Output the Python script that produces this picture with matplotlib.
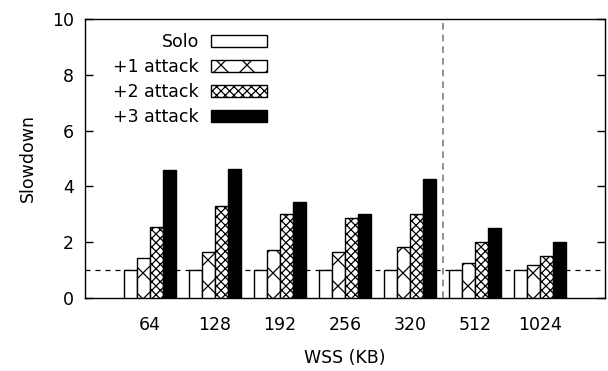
import numpy as np
import matplotlib
matplotlib.use("Agg")
import matplotlib.pyplot as plt

wss_labels = ["64", "128", "192", "256", "320", "512", "1024"]
series_names = ["Solo", "+1 attack", "+2 attack", "+3 attack"]
solo = [1.0, 1.0, 1.0, 1.0, 1.0, 1.0, 1.0]
attack1 = [1.45, 1.64, 1.71, 1.64, 1.83, 1.26, 1.18]
attack2 = [2.53, 3.29, 3.01, 2.85, 3.02, 1.99, 1.51]
attack3 = [4.58, 4.61, 3.43, 3.0, 4.25, 2.5, 2.0]

# lower dpi so the hatch cells come out near the reference size;
# point sizes are scaled back up so text/lines keep their pixel size
DPI = 78
S = 100 / DPI
FS = 12.5 * S

plt.rcParams['font.family'] = ['DejaVu Sans']
plt.rcParams['hatch.linewidth'] = 0.9 * S

fig = plt.figure(figsize=(608 / DPI, 371 / DPI), dpi=DPI)
ax = fig.add_axes([85 / 608, 1 - 298 / 371, 520 / 608, 279 / 371])

x = np.arange(len(wss_labels))
w = 0.2
styles = [
    dict(facecolor="white", hatch=None),
    dict(facecolor="white", hatch="x"),
    dict(facecolor="white", hatch="xxx"),
    dict(facecolor="black", hatch=None),
]
for i, (vals, name, st) in enumerate(zip([solo, attack1, attack2, attack3], series_names, styles)):
    ax.bar(x + (i - 1.5) * w, vals, w, label=name, edgecolor="black",
           linewidth=1.0 * S, zorder=3, **st)

ax.axhline(1.0, color="black", linestyle=(0, (4, 4)), linewidth=0.9 * S, zorder=1)
ax.axvline(4.5, color="gray", linestyle=(0, (4, 3)), linewidth=1.2 * S, zorder=4)

ax.set_xlim(-1, 7)
ax.set_ylim(0, 10)
ax.set_xticks(x)
ax.set_xticklabels(wss_labels)
ax.set_yticks([0, 2, 4, 6, 8, 10])
ax.tick_params(axis="x", length=0, labelsize=FS, pad=13 * S)
ax.tick_params(axis="y", direction="in", length=6 * S, width=1.0 * S,
               labelsize=FS, right=True, pad=8 * S)
for s in ax.spines.values():
    s.set_linewidth(1.0 * S)

ax.set_xlabel("WSS (KB)", fontsize=FS, labelpad=11 * S)
ax.set_ylabel("Slowdown", fontsize=FS, labelpad=11 * S)

ax.legend(loc="upper left", bbox_to_anchor=(0.031, 0.993), frameon=False,
          markerfirst=False, fontsize=FS, handlelength=3.25, handleheight=0.7,
          labelspacing=0.4, handletextpad=0.7, borderaxespad=0.3)

fig.savefig("out.png", dpi=DPI)
